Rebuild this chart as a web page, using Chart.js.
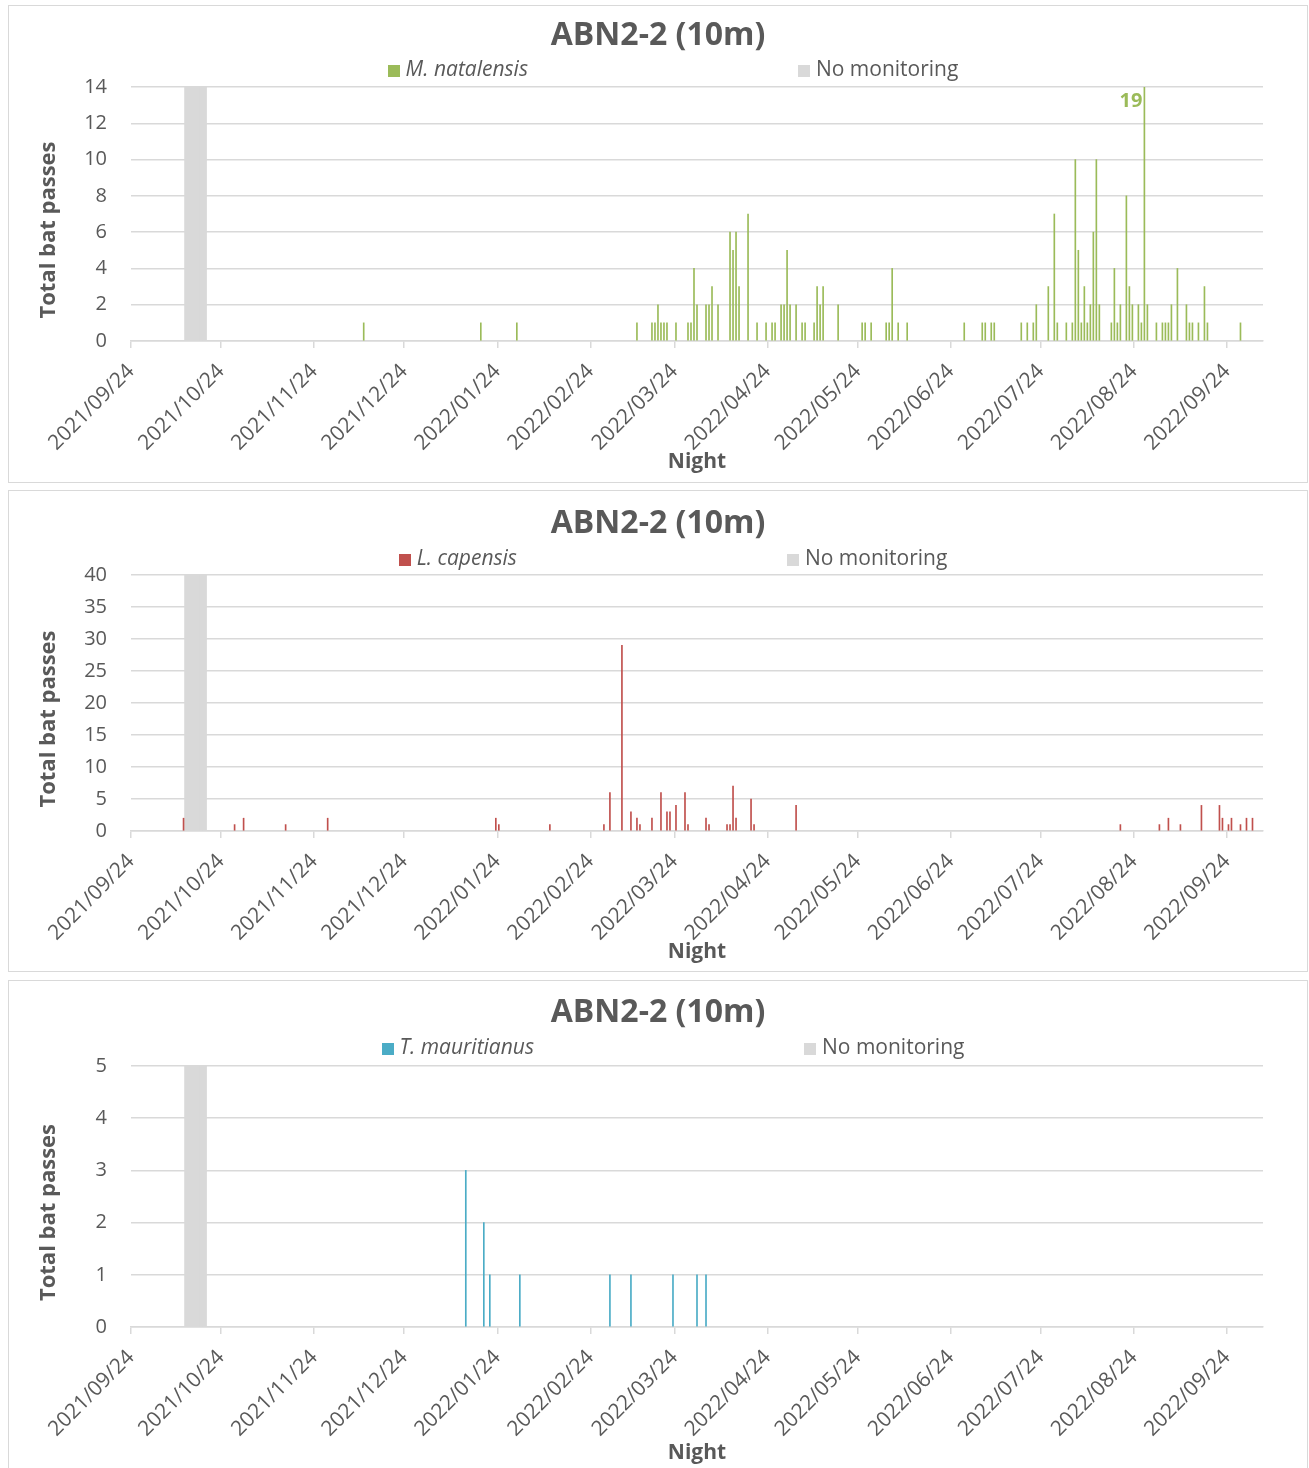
<!DOCTYPE html>
<html>
<head>
<meta charset="utf-8">
<script src="https://cdn.jsdelivr.net/npm/chart.js@4.4.1/dist/chart.umd.min.js"></script>
<style>
  body { margin: 0; background: #fff; font-family: "Open Sans", sans-serif; }
  .panel { position: absolute; left: 8px; width: 1300px; border: 1px solid #d9d9d9; box-sizing: border-box; }
  .panel canvas { display: block; }
  .legend { position: absolute; left: 0; right: 0; display: flex; justify-content: center; gap: 270px;
            padding-left: 30px; font-size: 21px; line-height: 24px; color: #595959; }
  .legend span.box { display: inline-block; width: 12px; height: 12px; margin-right: 6px; vertical-align: -1px; }
</style>
</head>
<body>
<div class="panel" id="p1"><canvas id="c1" width="1298" height="476"></canvas></div>
<div class="panel" id="p2"><canvas id="c2" width="1298" height="480"></canvas></div>
<div class="panel" id="p3"><canvas id="c3" width="1298" height="487"></canvas></div>
<script>
// nights are dates, axis starts at 2021/09/24
const tickLabels = ["2021/09/24", "2021/10/24", "2021/11/24", "2021/12/24", "2022/01/24", "2022/02/24",
  "2022/03/24", "2022/04/24", "2022/05/24", "2022/06/24", "2022/07/24", "2022/08/24", "2022/09/24"];
const axisEnd = "2022/10/06";

const noMonitoringNights = ["2021/10/12", "2021/10/13", "2021/10/14", "2021/10/15", "2021/10/16", "2021/10/17", "2021/10/18"];

const natalensisNights = ["2021/12/10", "2022/01/18", "2022/01/30", "2022/03/11", "2022/03/16", "2022/03/17", "2022/03/18",
  "2022/03/19", "2022/03/20", "2022/03/21", "2022/03/24", "2022/03/28", "2022/03/29", "2022/03/30", "2022/03/31",
  "2022/04/03", "2022/04/04", "2022/04/05", "2022/04/07", "2022/04/11", "2022/04/12", "2022/04/13", "2022/04/14",
  "2022/04/17", "2022/04/20", "2022/04/23", "2022/04/25", "2022/04/26", "2022/04/28", "2022/04/29", "2022/04/30",
  "2022/05/01", "2022/05/03", "2022/05/05", "2022/05/06", "2022/05/09", "2022/05/10", "2022/05/11", "2022/05/12",
  "2022/05/17", "2022/05/25", "2022/05/26", "2022/05/28", "2022/06/02", "2022/06/03", "2022/06/04", "2022/06/06",
  "2022/06/09", "2022/06/28", "2022/07/04", "2022/07/05", "2022/07/07", "2022/07/08", "2022/07/17", "2022/07/19",
  "2022/07/21", "2022/07/22", "2022/07/26", "2022/07/28", "2022/07/29", "2022/08/01", "2022/08/03", "2022/08/04",
  "2022/08/05", "2022/08/06", "2022/08/07", "2022/08/08", "2022/08/09", "2022/08/10", "2022/08/11", "2022/08/12",
  "2022/08/16", "2022/08/17", "2022/08/18", "2022/08/19", "2022/08/21", "2022/08/22", "2022/08/23", "2022/08/25",
  "2022/08/26", "2022/08/27", "2022/08/28", "2022/08/31", "2022/09/02", "2022/09/03", "2022/09/04", "2022/09/05",
  "2022/09/07", "2022/09/10", "2022/09/11", "2022/09/12", "2022/09/14", "2022/09/16", "2022/09/17", "2022/09/28"];
const natalensisPasses = [1, 1, 1, 1, 1, 1, 2, 1, 1, 1,
  1, 1, 1, 4, 2, 2, 2, 3, 2, 6,
  5, 6, 3, 7, 1, 1, 1, 1, 2, 2,
  5, 2, 2, 1, 1, 1, 3, 2, 3, 2,
  1, 1, 1, 1, 1, 4, 1, 1, 1, 1,
  1, 1, 1, 1, 1, 1, 2, 3, 7, 1,
  1, 1, 10, 5, 1, 3, 1, 2, 6, 10,
  2, 1, 4, 1, 2, 8, 3, 2, 2, 1,
  19, 2, 1, 1, 1, 1, 2, 4, 2, 1,
  1, 1, 3, 1, 1];

const capensisNights = ["2021/10/11", "2021/10/28", "2021/10/31", "2021/11/14", "2021/11/28", "2022/01/23", "2022/01/24",
  "2022/02/10", "2022/02/28", "2022/03/02", "2022/03/06", "2022/03/09", "2022/03/11", "2022/03/12", "2022/03/16",
  "2022/03/19", "2022/03/21", "2022/03/22", "2022/03/24", "2022/03/27", "2022/03/28", "2022/04/03", "2022/04/04",
  "2022/04/10", "2022/04/11", "2022/04/12", "2022/04/13", "2022/04/18", "2022/04/19", "2022/05/03", "2022/08/19",
  "2022/09/01", "2022/09/04", "2022/09/08", "2022/09/15", "2022/09/21", "2022/09/22", "2022/09/24", "2022/09/25",
  "2022/09/28", "2022/09/30", "2022/10/02"];
const capensisPasses = [2, 1, 2, 1, 2, 2, 1, 1, 1, 6,
  29, 3, 2, 1, 2, 6, 3, 3, 4, 6,
  1, 2, 1, 1, 1, 7, 2, 5, 1, 4,
  1, 1, 2, 1, 4, 4, 2, 1, 2, 1,
  2, 2];

const mauritianusNights = ["2022/01/13", "2022/01/19", "2022/01/21", "2022/01/31", "2022/03/02", "2022/03/09",
  "2022/03/23", "2022/03/31", "2022/04/03"];
const mauritianusPasses = [3, 2, 1, 1, 1, 1, 1, 1, 1];

const textColor = "#595959";
const gridColor = "#d9d9d9";
Chart.defaults.font.family = "'Open Sans', sans-serif";
Chart.defaults.color = textColor;

function dayOf(s) {
  const [y, m, d] = s.split("/").map(Number);
  return (Date.UTC(y, m - 1, d) - Date.UTC(2021, 8, 24)) / 864e5;
}
const tickDays = tickLabels.map(dayOf);

// value above the axis max gets written next to the clipped bar
const overflowLabels = {
  id: "overflowLabels",
  afterDatasetsDraw(chart) {
    const { ctx, scales: { y } } = chart;
    chart.data.datasets.forEach((ds, i) => {
      const meta = chart.getDatasetMeta(i);
      ds.data.forEach((pt, j) => {
        if (pt.y <= y.max) return;
        const bar = meta.data[j];
        ctx.save();
        ctx.font = "bold 20px 'Open Sans'";
        ctx.fillStyle = ds.backgroundColor;
        ctx.textAlign = "right";
        ctx.textBaseline = "middle";
        ctx.fillText(pt.y, bar.x - 2, y.top + 14);
        ctx.restore();
      });
    });
  }
};

// y axis title, sits a little below the middle of the axis like the original
const sideTitle = {
  id: "sideTitle",
  afterDraw(chart, args, opts) {
    const { ctx, scales: { y } } = chart;
    ctx.save();
    ctx.translate(opts.x, (y.top + y.bottom) / 2 + opts.shift);
    ctx.rotate(-Math.PI / 2);
    ctx.font = "bold 22px 'Open Sans'";
    ctx.fillStyle = textColor;
    ctx.textAlign = "center";
    ctx.textBaseline = "middle";
    ctx.fillText(opts.text, 0, 0);
    ctx.restore();
  }
};

function batChart(p) {
  const ctx = document.getElementById(p.canvas).getContext("2d");
  const H = ctx.canvas.height;
  const titleTop = p.titleY - 19.2;
  const config = {
    type: "bar",
    data: {
      datasets: [
        {
          label: p.species,
          italic: true,
          data: p.nights.map((n, i) => ({ x: dayOf(n) + 0.5, y: p.passes[i] })),
          backgroundColor: p.color,
          barThickness: 1,
          grouped: false,
        },
        {
          label: "No monitoring",
          data: noMonitoringNights.map((n) => ({ x: dayOf(n) + 0.5, y: p.yMax })),
          backgroundColor: gridColor,
          barThickness: 4,
          grouped: false,
        },
      ],
    },
    options: {
      responsive: false,
      animation: false,
      layout: { padding: 0 },
      plugins: {
        legend: { display: false },
        tooltip: { enabled: false },
        title: {
          display: true,
          text: "ABN2-2 (10m)",
          color: textColor,
          font: { size: 32, weight: "bold" },
          padding: { top: titleTop, bottom: p.plotTop - titleTop - 38.4 },
        },
        sideTitle: { text: "Total bat passes", x: 40, shift: 16 },
      },
      scales: {
        x: {
          type: "linear",
          offset: false,
          min: 0,
          max: dayOf(axisEnd),
          afterBuildTicks: (s) => { s.ticks = tickDays.map((v) => ({ value: v })); },
          afterFit: (s) => { s.height = H - p.plotBottom; },
          ticks: {
            autoSkip: false,
            minRotation: 45,
            maxRotation: 45,
            padding: 11,
            color: textColor,
            font: { size: 21 },
            callback: (v) => tickLabels[tickDays.indexOf(v)],
          },
          grid: { offset: false, drawOnChartArea: false, color: gridColor, lineWidth: 1.5, tickLength: 7 },
          border: { color: gridColor, width: 1.5 },
          title: {
            display: true,
            text: "Night",
            color: textColor,
            font: { size: 21, weight: "bold" },
            padding: { top: 0, bottom: H - p.nightY - 12.6 },
          },
        },
        y: {
          min: 0,
          max: p.yMax,
          afterFit: (s) => { s.width = 122; },
          ticks: { stepSize: p.step, padding: 24, color: textColor, font: { size: 20 } },
          grid: { color: gridColor, lineWidth: 1.5, drawTicks: false },
          border: { display: false },
        },
        // empty right margin so the title stays centred on the whole panel
        yRight: {
          position: "right",
          min: 0,
          max: p.yMax,
          afterFit: (s) => { s.width = 44; },
          ticks: { display: false },
          grid: { display: false },
          border: { display: false },
        },
      },
    },
    plugins: [overflowLabels, sideTitle],
  };
  const chart = new Chart(ctx, config);

  // legend spread like the original, built from the datasets
  const legend = document.createElement("div");
  legend.className = "legend";
  legend.style.top = p.legendY - 12 + "px";
  chart.data.datasets.forEach((ds) => {
    const item = document.createElement("div");
    const box = document.createElement("span");
    box.className = "box";
    box.style.background = ds.backgroundColor;
    const txt = document.createElement("span");
    txt.textContent = ds.label;
    if (ds.italic) txt.style.fontStyle = "italic";
    item.append(box, txt);
    legend.appendChild(item);
  });
  document.getElementById(p.panel).appendChild(legend);
}

const panels = [
  { panel: "p1", canvas: "c1", top: 5, height: 478, species: "M. natalensis", nights: natalensisNights,
    passes: natalensisPasses, color: "#9bbb59", yMax: 14, step: 2,
    titleY: 30, legendY: 62, plotTop: 81, plotBottom: 335, nightY: 456 },
  { panel: "p2", canvas: "c2", top: 490, height: 482, species: "L. capensis", nights: capensisNights,
    passes: capensisPasses, color: "#c0504d", yMax: 40, step: 5,
    titleY: 33, legendY: 66, plotTop: 84, plotBottom: 340, nightY: 461 },
  { panel: "p3", canvas: "c3", top: 980, height: 489, species: "T. mauritianus", nights: mauritianusNights,
    passes: mauritianusPasses, color: "#4bacc6", yMax: 5, step: 1,
    titleY: 32, legendY: 65, plotTop: 85, plotBottom: 346, nightY: 472 },
];

panels.forEach((p) => {
  const el = document.getElementById(p.panel);
  el.style.top = p.top + "px";
  el.style.height = p.height + "px";
  batChart(p);
});
</script>
</body>
</html>
